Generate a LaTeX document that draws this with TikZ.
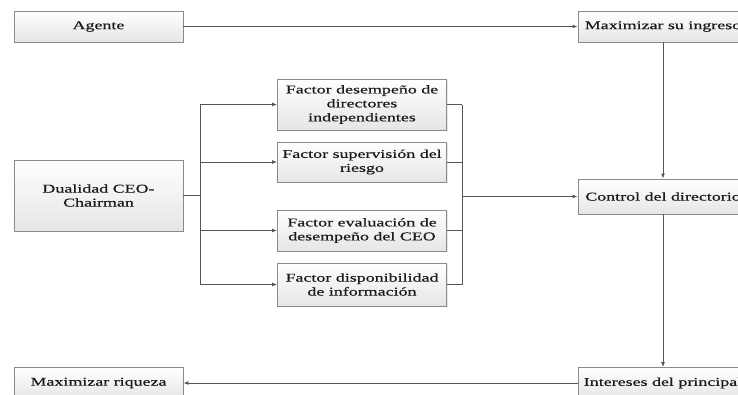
\documentclass[tikz,border=0pt]{standalone}
\usepackage{fontspec}
\setmainfont{Liberation Serif}[FakeStretch=1.5,FakeBold=0.5]
\usetikzlibrary{arrows.meta,shadows}
\definecolor{linec}{HTML}{555555}
\definecolor{boxline}{HTML}{8A8A8A}
\definecolor{txt}{HTML}{1A1A1A}
\tikzset{
  box/.style={draw=boxline, line width=0.9bp, top color=white, bottom color=black!10,
    drop shadow={shadow xshift=1.2bp, shadow yshift=-1.2bp, opacity=0.18},
    minimum width=169bp, inner sep=0pt, align=center, text=txt,
    font=\fontsize{12}{14}\selectfont},
  conn/.style={draw=linec, line width=0.9bp},
  arr/.style={conn, -{Latex[length=5bp,width=4bp]}},
}
\begin{document}
\begin{tikzpicture}[x=1bp,y=-1bp]
\clip (0,0) rectangle (738,394);
\fill[white] (0,0) rectangle (738,394);
% left and right columns
\node[box, minimum height=31bp] (agente) at (98.5,26.5) {Agente};
\node[box, minimum width=170bp, minimum height=31bp] (maxing) at (663,26.5) {Maximizar su ingreso};
\node[box, minimum height=71bp] (dual) at (98.5,195.5) {Dualidad CEO-\\Chairman};
\node[box, minimum width=170bp, minimum height=35bp] (control) at (663,196.5) {Control del directorio};
\node[box, minimum height=31bp] (maxriq) at (98.5,383) {Maximizar riqueza};
\node[box, minimum width=170bp, minimum height=31bp] (inter) at (663,383) {Intereses del principal};
% factor boxes
\node[box, minimum height=51bp] (f1) at (362,104.5) {Factor desempeño de\\directores\\independientes};
\node[box, minimum height=40bp] (f2) at (362,162) {Factor supervisión del\\riesgo};
\node[box, minimum height=41bp] (f3) at (362,230.5) {Factor evaluación de\\desempeño del CEO};
\node[box, minimum height=43bp] (f4) at (362,284.5) {Factor disponibilidad\\de información};
% branch coordinates
\coordinate (bl) at (200,195.5);
\coordinate (br) at (462,196.5);
% connectors
\draw[arr] (agente.east) -- (maxing.west);
\draw[arr] (maxing.south) -- (control.north);
\draw[arr] (control.south) -- (inter.north);
\draw[arr] (inter.west) -- (maxriq.east);
\draw[conn] (dual.east) -- (bl);
\draw[conn] (bl |- f1.west) -- (bl |- f4.west);
\draw[arr] (bl |- f1.west) -- (f1.west);
\draw[arr] (bl |- f2.west) -- (f2.west);
\draw[arr] (bl |- f3.west) -- (f3.west);
\draw[arr] (bl |- f4.west) -- (f4.west);
\draw[conn] (f1.east) -- (br |- f1.east);
\draw[conn] (f2.east) -- (br |- f2.east);
\draw[conn] (f3.east) -- (br |- f3.east);
\draw[conn] (f4.east) -- (br |- f4.east);
\draw[conn] (br |- f1.east) -- (br |- f4.east);
\draw[arr] (br) -- (control.west);
\end{tikzpicture}
\end{document}
